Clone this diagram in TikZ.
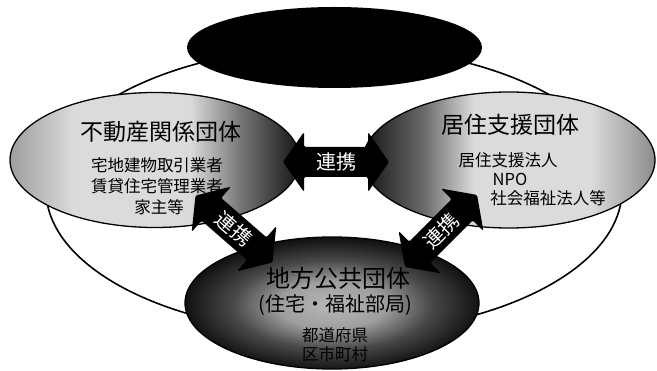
\documentclass[tikz,border=0pt]{standalone}
\usepackage{fontspec}
\setmainfont{Noto Sans CJK JP}
\usetikzlibrary{shapes.geometric}
\pgfdeclarehorizontalshading{shL}{100bp}{color(0bp)=(black!38); color(25bp)=(black!38); color(36bp)=(black!14); color(56bp)=(black!14); color(65bp)=(black!55); color(75bp)=(black!92); color(100bp)=(black!92)}
\pgfdeclarehorizontalshading{shR}{100bp}{color(0bp)=(black!92); color(25bp)=(black!92); color(35bp)=(black!60); color(44bp)=(black!14); color(64bp)=(black!14); color(75bp)=(black!45); color(100bp)=(black!45)}
\pgfdeclareradialshading{shB}{\pgfpoint{0bp}{-1bp}}{color(0bp)=(black!28); color(9bp)=(black!38); color(17bp)=(black!72); color(25bp)=(black!93); color(50bp)=(black!93)}
% #1 name, #2 x, #3 y, #4 angle, #5 half length
\newcommand\linkarrow[5]{%
  \begin{scope}[shift={(#2,#3)}, rotate=#4]
    \coordinate (#1-s) at (-#5,0);
    \coordinate (#1-e) at (#5,0);
    \fill[linkfill] (#1-s) -- ({-#5+21},-30) -- ({-#5+21},-15) -- ({#5-21},-15) -- ({#5-21},-30)
      -- (#1-e) -- ({#5-21},30) -- ({#5-21},15) -- ({-#5+21},15) -- ({-#5+21},30) -- cycle;
  \end{scope}
  \node[linktext, rotate=#4] (#1) at (#2,#3) {連携};}
\begin{document}
\begin{tikzpicture}[x=1pt,y=-1pt,
  blob/.style={ellipse, draw=black, line width=1.3pt, inner sep=0pt},
  linkfill/.style={fill=black, rounded corners=1.5pt},
  linktext/.style={text=white, inner sep=0pt, font=\fontsize{20}{20}\selectfont},
  ttl/.style={inner sep=0pt, font=\fontsize{23}{23}\selectfont},
  sub/.style={inner sep=0pt, font=\fontsize{16.5}{16.5}\selectfont},
  mid/.style={inner sep=0pt, font=\fontsize{20}{20}\selectfont}]
\useasboundingbox (0,0) rectangle (657,371);
\node[ellipse, draw=black, line width=1.6pt, minimum width=576pt, minimum height=287pt, inner sep=0pt] (outer) at (334,190) {};
\node[ellipse, fill=black, minimum width=295pt, minimum height=81pt, inner sep=0pt] (top) at (334.5,47.5) {};
\node[blob, shading=shL, minimum width=290pt, minimum height=135pt] (L) at (155,160) {};
\node[blob, shading=shR, minimum width=292pt, minimum height=136pt] (R) at (509,160) {};
\node[blob, shading=shB, minimum width=294pt, minimum height=132pt] (B) at (332,303) {};
% texts
\node[ttl] (Lt) at (161,132) {不動産関係団体};
\node[sub] (L1) at (157,165) {宅地建物取引業者};
\node[sub] (L2) at (157,186) {賃貸住宅管理業者};
\node[sub] (L3) at (159,207) {家主等};
\node[ttl] (Rt) at (510,125) {居住支援団体};
\node[sub] (R1) at (508,160) {居住支援法人};
\node[sub] (R2) at (510,179) {NPO};
\node[sub] (R3) at (548,198) {社会福祉法人等};
\node[ttl, font=\fontsize{24}{24}\selectfont] (Bt) at (338,278) {地方公共団体};
\node[mid] (B1) at (335,305) {(住宅・福祉部局)};
\node[sub] (B2) at (335,335) {都道府県};
\node[sub] (B3) at (335,354) {区市町村};
% links
\linkarrow{a1}{336}{162}{0}{53}
\linkarrow{a2}{234}{229}{-41}{51}
\linkarrow{a3}{441}{231}{45}{51}
\end{tikzpicture}
\end{document}
